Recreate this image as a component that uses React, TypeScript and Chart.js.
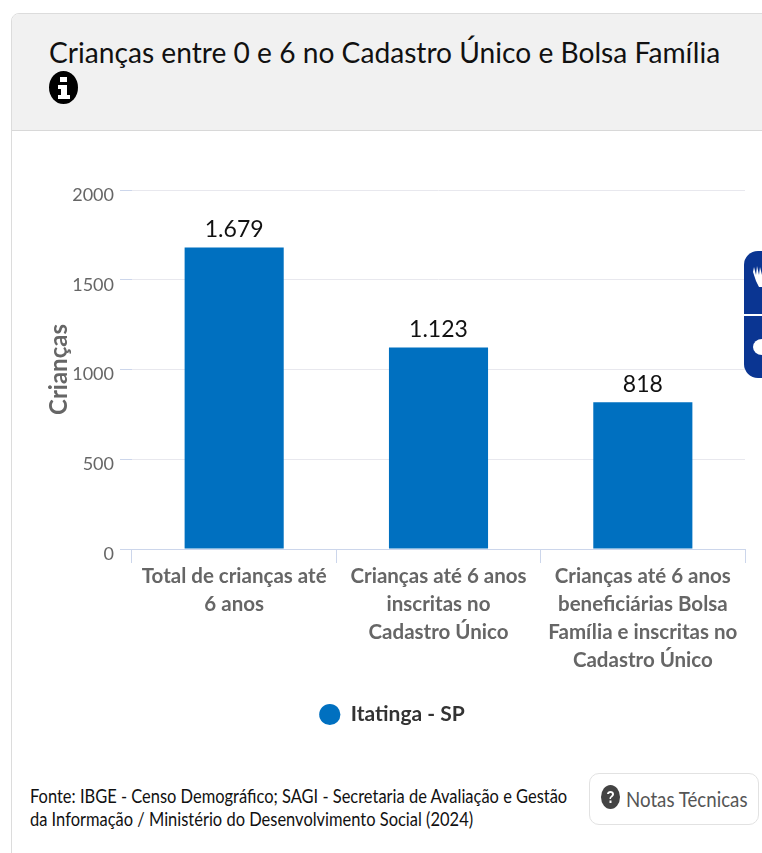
import React, { useEffect, useRef } from "react";
import { Chart, registerables } from "chart.js";

Chart.register(...registerables);

const FONT = '"Lato", sans-serif';

const categories: string[][] = [
  ["Total de crianças até", "6 anos"],
  ["Crianças até 6 anos", "inscritas no", "Cadastro Único"],
  ["Crianças até 6 anos", "beneficiárias Bolsa", "Família e inscritas no", "Cadastro Único"],
];
const seriesName = "Itatinga - SP";
const seriesValues = [1679, 1123, 818];
const yTicks = [0, 500, 1000, 1500, 2000];
const titleText = "Crianças entre 0 e 6 no Cadastro Único e Bolsa Família";
const sourceLines = [
  "Fonte: IBGE - Censo Demográfico; SAGI - Secretaria de Avaliação e Gestão",
  "da Informação / Ministério do Desenvolvimento Social (2024)",
];
const notesLabel = "Notas Técnicas";

const fmt = (v: number) => String(v).replace(/\B(?=(\d{3})+$)/g, ".");

const valueLabels = {
  id: "valueLabels",
  afterDatasetsDraw(chart: any) {
    const { ctx } = chart;
    const meta = chart.getDatasetMeta(0);
    ctx.save();
    ctx.font = `23px ${FONT}`;
    ctx.fillStyle = "#111";
    ctx.textAlign = "center";
    ctx.textBaseline = "middle";
    meta.data.forEach((bar: any, i: number) => {
      ctx.fillText(fmt(seriesValues[i]), bar.x, bar.y - 18);
    });
    ctx.restore();
  },
};

export default function App() {
  const ref = useRef<HTMLCanvasElement>(null);

  useEffect(() => {
    document.body.style.margin = "0";
    document.body.style.background = "#fff";
    const chart = new Chart(ref.current!, {
      type: "bar",
      data: {
        labels: categories,
        datasets: [
          {
            label: seriesName,
            data: seriesValues,
            backgroundColor: "#0070c0",
            barPercentage: 0.485,
            categoryPercentage: 1,
          },
        ],
      },
      options: {
        responsive: false,
        animation: false,
        layout: { padding: { top: 59, right: 17, left: 0, bottom: 0 } },
        plugins: {
          tooltip: { enabled: false },
          legend: {
            position: "bottom",
            labels: {
              usePointStyle: true,
              pointStyle: "circle",
              boxHeight: 15,
              color: "#333",
              font: { family: FONT, size: 21, weight: "bold" },
            },
          },
        },
        scales: {
          x: {
            offset: true,
            afterFit(s: any) {
              s.height = 145;
            },
            border: { color: "#ccd6eb", width: 1 },
            grid: { drawOnChartArea: false, offset: true, color: "#ccd6eb", tickLength: 14, tickColor: "#ccd6eb" },
            ticks: {
              maxRotation: 0,
              minRotation: 0,
              autoSkip: false,
              color: "#666",
              padding: -1,
              font: { family: FONT, size: 20.5, weight: "bold", lineHeight: 1.37 },
            },
          },
          y: {
            min: 0,
            max: 2000,
            afterFit(s: any) {
              s.width = 93;
            },
            afterBuildTicks(s: any) {
              s.ticks = yTicks.map((value) => ({ value }));
            },
            border: { display: false },
            grid: { color: "#e8e8ee", tickLength: 12, tickColor: "#ccd6eb" },
            ticks: {
              color: "#666",
              padding: 6,
              labelOffset: 5,
              font: { family: FONT, size: 18 },
              callback: (v: any) => String(v),
            },
            title: {
              display: true,
              text: "Crianças",
              color: "#666",
              padding: { top: 6, bottom: 0 },
              font: { family: FONT, size: 24, weight: "bold" },
            },
          },
        },
      },
      plugins: [valueLabels],
    } as any);
    return () => chart.destroy();
  }, []);

  const squeeze = (k: number): React.CSSProperties => ({ transform: `scaleX(${k})`, transformOrigin: "left center" });

  return (
    <div style={{ position: "relative", width: 762, height: 853, overflow: "hidden", fontFamily: FONT, background: "#fff" }}>
      <div
        style={{
          position: "absolute",
          left: 11,
          top: 13,
          width: 780,
          height: 880,
          border: "1px solid #dcdcdc",
          borderRadius: 8,
          boxSizing: "border-box",
          overflow: "hidden",
        }}
      >
        <div style={{ height: 117, background: "#f1f1f1", borderBottom: "1px solid #d8d8d8", boxSizing: "border-box" }} />
      </div>
      <div style={{ position: "absolute", left: 49, top: 34, fontSize: 29, lineHeight: "36px", color: "#111", whiteSpace: "nowrap", ...squeeze(0.971) }}>
        {titleText}
      </div>
      <svg style={{ position: "absolute", left: 49, top: 71 }} width={29} height={33} viewBox="0 0 29 33">
        <ellipse cx={14.5} cy={16.5} rx={14.5} ry={16.5} fill="#000" />
        <rect x={11} y={6} width={7} height={5} fill="#fff" />
        <path d="M9 14h9v10h3v4H9v-4h3v-6H9z" fill="#fff" />
      </svg>
      <canvas ref={ref} width={723} height={604} style={{ position: "absolute", left: 39, top: 131, width: 723, height: 604 }} />
      <svg style={{ position: "absolute", left: 744, top: 251 }} width={18} height={128} viewBox="0 0 18 128">
        <path d="M18 0H14A14 14 0 0 0 0 14V113A14 14 0 0 0 14 127H18Z" fill="#0a3592" />
        <rect x={0} y={63} width={18} height={2} fill="#fff" />
        <path d="M10 16l2 8 1-9 2 9 1-8 2 8v12h-3l-3-6-3-9z" fill="#fff" />
        <ellipse cx={18} cy={96} rx={9} ry={8} fill="#fff" />
      </svg>
      <div style={{ position: "absolute", left: 30, top: 785, fontSize: 18.5, lineHeight: "23px", color: "#111", whiteSpace: "nowrap", ...squeeze(0.89) }}>
        {sourceLines.map((l) => (
          <div key={l}>{l}</div>
        ))}
      </div>
      <div
        style={{
          position: "absolute",
          left: 589,
          top: 773,
          width: 170,
          height: 52,
          border: "1px solid #e2e2e2",
          borderRadius: 10,
          boxSizing: "border-box",
        }}
      />
      <svg style={{ position: "absolute", left: 601, top: 785 }} width={19} height={24} viewBox="0 0 19 24">
        <ellipse cx={9.5} cy={12} rx={9.5} ry={12} fill="#444" />
        <path d="M6 9c0-4 7-4 7 0 0 3-3 3-3 5H8.500c0-3 2.500-3 2.500-5 0-1.500-3-1.500-3 0z" fill="#fff" />
        <rect x={8.500} y={15.500} width={2} height={2.500} fill="#fff" />
      </svg>
      <div style={{ position: "absolute", left: 626, top: 786, fontSize: 21, lineHeight: "26px", color: "#555", whiteSpace: "nowrap", ...squeeze(0.89) }}>
        {notesLabel}
      </div>
    </div>
  );
}
